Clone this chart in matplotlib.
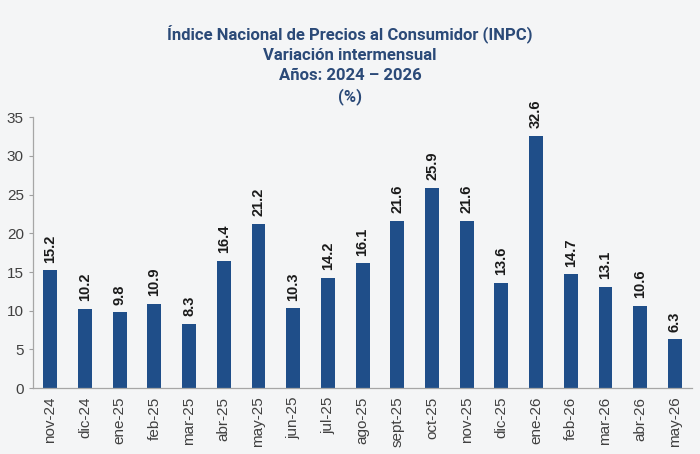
import matplotlib.pyplot as plt

# datos
meses = ["nov-24", "dic-24", "ene-25", "feb-25", "mar-25", "abr-25", "may-25",
         "jun-25", "jul-25", "ago-25", "sept-25", "oct-25", "nov-25", "dic-25",
         "ene-26", "feb-26", "mar-26", "abr-26", "may-26"]
valores = [15.2, 10.2, 9.8, 10.9, 8.3, 16.4, 21.2, 10.3, 14.2, 16.1, 21.6,
           25.9, 21.6, 13.6, 32.6, 14.7, 13.1, 10.6, 6.3]
yticks = [0, 5, 10, 15, 20, 25, 30, 35]

titulo = ("Índice Nacional de Precios al Consumidor (INPC)\n"
          "Variación intermensual\nAños: 2024 – 2026\n(%)")

fondo = "#f4f5f6"
azul = "#1f4e89"

plt.rcParams['font.family'] = ['Liberation Sans', 'DejaVu Sans']

fig = plt.figure(figsize=(7, 4.54), dpi=100, facecolor=fondo)
ax = fig.add_axes([0.047, 0.145, 0.942, 0.597], facecolor=fondo)

x = list(range(len(meses)))
bars = ax.bar(x, valores, width=0.4, color=azul)

# etiquetas de valor
for xi, v in zip(x, valores):
    ax.text(xi, v + 1.0, f"{v:.1f}", rotation=90, ha="center", va="bottom",
            fontsize=10.5, fontweight="bold", color="#1a1a1a")

ax.set_xlim(-0.5, len(meses) - 0.5)
ax.set_ylim(0, 35)
ax.set_yticks(yticks)
ax.set_xticks(x)
ax.set_xticklabels(meses, rotation=90, fontsize=11, color="#404040")
ax.tick_params(axis="y", labelsize=11, labelcolor="#404040", length=3, color="#a0a0a0")
ax.tick_params(axis="x", length=0, pad=6)

for s in ["top", "right"]:
    ax.spines[s].set_visible(False)
for s in ["left", "bottom"]:
    ax.spines[s].set_color("#a6a6a6")
    ax.spines[s].set_linewidth(0.9)

fig.text(0.5, 0.945, titulo, ha="center", va="top", fontsize=12,
         fontweight="bold", color="#2b4a78", linespacing=1.4,
         family=['Roboto', 'Liberation Sans'])

fig.savefig("out.png", dpi=100, facecolor=fondo)
